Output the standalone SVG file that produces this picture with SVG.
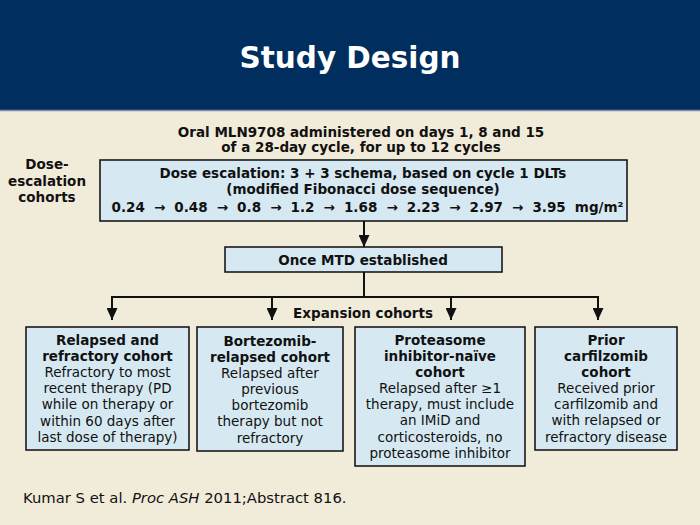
<svg xmlns="http://www.w3.org/2000/svg" width="700" height="525" viewBox="0 0 700 525">
<style>
text{font-family:"DejaVu Sans",Verdana,sans-serif;fill:#111;text-anchor:middle}
.b{font-weight:bold;font-size:13.5px}
.r{font-size:13.5px}
.box{fill:#d6e9f2;stroke:#1a1a1a;stroke-width:1.6}
.ln{stroke:#111;stroke-width:2;fill:none}
</style>
<defs>
<marker id="ah" viewBox="0 0 12 11" refX="12" refY="5.5" markerWidth="12" markerHeight="11" markerUnits="userSpaceOnUse" orient="auto">
<path d="M0,0 L12,5.5 L0,11 z" fill="#111"/>
</marker>
</defs>
<rect x="0" y="0" width="700" height="525" fill="#f1ebda"/>
<rect x="0" y="0" width="700" height="110" fill="#002f5f"/>
<line x1="0" y1="110.5" x2="700" y2="110.5" stroke="#7d8fa3" stroke-width="1.5"/>
<text x="350" y="68" style="font-size:31px;font-weight:bold;fill:#fff" textLength="221" lengthAdjust="spacingAndGlyphs">Study Design</text>

<g id="intro">
<text class="b" x="361" y="137">Oral MLN9708 administered on days 1, 8 and 15</text>
<text class="b" x="361" y="152">of a 28-day cycle, for up to 12 cycles</text>
</g>
<g id="dose-label">
<text class="b" x="47" y="169">Dose-</text>
<text class="b" x="47" y="186">escalation</text>
<text class="b" x="47" y="202">cohorts</text>
</g>
<g id="dose-box">
<rect class="box" x="100" y="160" width="527" height="61"/>
<text class="b" x="363" y="178">Dose escalation: 3 + 3 schema, based on cycle 1 DLTs</text>
<text class="b" x="363" y="194">(modified Fibonacci dose sequence)</text>
<text class="b" x="367.5" y="212" word-spacing="4.4">0.24 → 0.48 → 0.8 → 1.2 → 1.68 → 2.23 → 2.97 → 3.95 mg/m²</text>
</g>
<g id="mtd-box">
<rect class="box" x="225" y="247" width="277" height="25"/>
<text class="b" x="363" y="265">Once MTD established</text>
</g>
<g id="connectors">
<line class="ln" x1="364" y1="221" x2="364" y2="247" marker-end="url(#ah)"/>
<line class="ln" x1="364" y1="272" x2="364" y2="297"/>
<line class="ln" x1="111" y1="297" x2="599" y2="297"/>
<line class="ln" x1="112" y1="296" x2="112" y2="320" marker-end="url(#ah)"/>
<line class="ln" x1="272" y1="296" x2="272" y2="320" marker-end="url(#ah)"/>
<line class="ln" x1="451" y1="296" x2="451" y2="320" marker-end="url(#ah)"/>
<line class="ln" x1="598" y1="296" x2="598" y2="320" marker-end="url(#ah)"/>
</g>
<text class="b" x="363" y="318">Expansion cohorts</text>
<g id="cohort-rr">
<rect class="box" x="26" y="327" width="163" height="123"/>
<text class="b" x="107.5" y="345">Relapsed and</text>
<text class="b" x="107.5" y="361">refractory cohort</text>
<text class="r" x="107.5" y="377">Refractory to most</text>
<text class="r" x="107.5" y="393">recent therapy (PD</text>
<text class="r" x="107.5" y="409">while on therapy or</text>
<text class="r" x="107.5" y="426">within 60 days after</text>
<text class="r" x="107.5" y="442">last dose of therapy)</text>
</g>
<g id="cohort-btz">
<rect class="box" x="197" y="327" width="146" height="124"/>
<text class="b" x="270" y="346">Bortezomib-</text>
<text class="b" x="270" y="362">relapsed cohort</text>
<text class="r" x="270" y="378">Relapsed after</text>
<text class="r" x="270" y="394">previous</text>
<text class="r" x="270" y="410">bortezomib</text>
<text class="r" x="270" y="426">therapy but not</text>
<text class="r" x="270" y="443">refractory</text>
</g>
<g id="cohort-pi">
<rect class="box" x="355" y="327" width="170" height="139"/>
<text class="b" x="440" y="345">Proteasome</text>
<text class="b" x="440" y="361">inhibitor-naïve</text>
<text class="b" x="440" y="377">cohort</text>
<text class="r" x="440" y="393">Relapsed after ≥1</text>
<text class="r" x="440" y="409">therapy, must include</text>
<text class="r" x="440" y="425">an IMiD and</text>
<text class="r" x="440" y="442">corticosteroids, no</text>
<text class="r" x="440" y="458">proteasome inhibitor</text>
</g>
<g id="cohort-cfz">
<rect class="box" x="535" y="327" width="142" height="123"/>
<text class="b" x="606" y="345">Prior</text>
<text class="b" x="606" y="361">carfilzomib</text>
<text class="b" x="606" y="377">cohort</text>
<text class="r" x="606" y="393">Received prior</text>
<text class="r" x="606" y="409">carfilzomib and</text>
<text class="r" x="606" y="425">with relapsed or</text>
<text class="r" x="606" y="442">refractory disease</text>
</g>
<text x="23" y="503" style="font-size:14.8px;text-anchor:start">Kumar S et al. <tspan font-style="italic">Proc ASH</tspan> 2011;Abstract 816.</text>
</svg>
